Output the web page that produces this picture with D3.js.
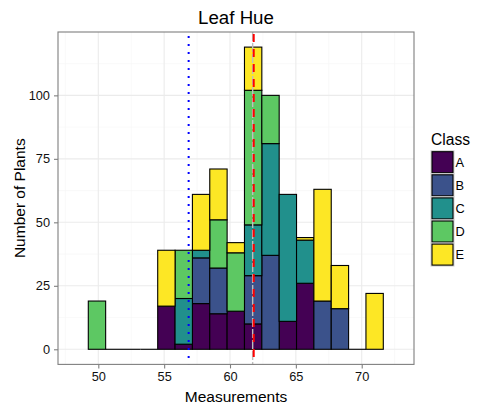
<!DOCTYPE html>
<html><head><meta charset="utf-8">
<script src="https://cdn.jsdelivr.net/npm/d3@7"></script>
<style>body{margin:0;background:#fff}svg{display:block}text{font-family:"Liberation Sans",Arial,sans-serif}</style>
</head><body><svg id="c" width="496" height="413"></svg>
<script>
// ---- data ----
const classes = ["A","B","C","D","E"];
const colors = ["#440154","#3B528B","#21908C","#5DC863","#FDE725"];
const binStart = 49.24;
const binWidth = 1.3176;
const countsA = [0,0,0,0,17,2,18,14,15,10,0,11,26,0,0,0,0];
const countsB = [0,0,0,0,0,0,18,18,0,19,37,0,0,19,16,0,0];
const countsC = [0,0,0,0,0,18,3,0,0,20,44,50,17,0,0,0,0];
const countsD = [19,0,0,0,0,19,0,19,23,53,19,0,0,0,0,0,0];
const countsE = [0,0,0,0,22,0,22,20,4,17,0,0,1,44,17,0,22];
const xTicks = [50,55,60,65,70];
const yTicks = [0,25,50,75,100];
const meanLine = 56.86;    // blue dotted
const medianLine = 61.8;   // red dashed
const greyLine = 61.72;    // grey dashed
const titleText = "Leaf Hue", xTitle = "Measurements", yTitle = "Number of Plants", legendTitle = "Class";

// ---- layout ----
const svg = d3.select("#c");
const P = {l:58, r:414, t:32, b:364.4};
const x = d3.scaleLinear().domain([46.94, 73.97]).range([P.l, P.r]);
const y = d3.scaleLinear().domain([-5.95, 124.95]).range([P.b, P.t]);

const nb = countsA.length;
const rows = d3.range(nb).map(i => ({i, A:countsA[i], B:countsB[i], C:countsC[i], D:countsD[i], E:countsE[i]}));
const stack = d3.stack().keys(classes)(rows);

// panel grid
const g = svg.append("g");
g.append("rect").attr("x",P.l).attr("y",P.t).attr("width",P.r-P.l).attr("height",P.b-P.t).attr("fill","#fff");
const xMinor = d3.range(47.5, 74, 5), yMinor = d3.range(12.5, 125, 25);
g.selectAll(".xm").data(xMinor).join("line").attr("x1",d=>x(d)).attr("x2",d=>x(d)).attr("y1",P.t).attr("y2",P.b).attr("stroke","#f5f5f5").attr("stroke-width",0.6);
g.selectAll(".ym").data(yMinor).join("line").attr("y1",d=>y(d)).attr("y2",d=>y(d)).attr("x1",P.l).attr("x2",P.r).attr("stroke","#f5f5f5").attr("stroke-width",0.6);
g.selectAll(".xM").data(xTicks).join("line").attr("x1",d=>x(d)).attr("x2",d=>x(d)).attr("y1",P.t).attr("y2",P.b).attr("stroke","#ebebeb").attr("stroke-width",1.1);
g.selectAll(".yM").data(yTicks).join("line").attr("y1",d=>y(d)).attr("y2",d=>y(d)).attr("x1",P.l).attr("x2",P.r).attr("stroke","#ebebeb").attr("stroke-width",1.1);

// zero-count bins as flat lines
const bars = svg.append("g");
rows.forEach(r => {
  const tot = classes.reduce((s,k)=>s+r[k],0);
  if (tot === 0) {
    bars.append("line").attr("x1",x(binStart+r.i*binWidth)).attr("x2",x(binStart+(r.i+1)*binWidth))
      .attr("y1",y(0)).attr("y2",y(0)).attr("stroke","#000").attr("stroke-width",1.1);
  }
});
stack.forEach((layer, k) => {
  bars.selectAll(null).data(layer.filter(d => d[1]-d[0] > 0)).join("rect")
    .attr("x", d => x(binStart + d.data.i*binWidth))
    .attr("width", d => x(binStart + (d.data.i+1)*binWidth) - x(binStart + d.data.i*binWidth))
    .attr("y", d => y(d[1]))
    .attr("height", d => y(d[0]) - y(d[1]))
    .attr("fill", colors[k]).attr("stroke","#000").attr("stroke-width",1.1);
});

// reference lines
svg.append("line").attr("x1",x(greyLine)).attr("x2",x(greyLine)).attr("y1",P.t).attr("y2",P.b)
  .attr("stroke","#bebebe").attr("stroke-width",1.4).attr("stroke-dasharray","9,2");
svg.append("line").attr("x1",x(meanLine)).attr("x2",x(meanLine)).attr("y1",P.t+4).attr("y2",P.b)
  .attr("stroke","#0000ff").attr("stroke-width",2).attr("stroke-dasharray","2,6");
svg.append("line").attr("x1",x(medianLine)).attr("x2",x(medianLine)).attr("y1",P.t+2).attr("y2",P.b)
  .attr("stroke","#ff0000").attr("stroke-width",2).attr("stroke-dasharray","8,7");

// panel border
svg.append("rect").attr("x",P.l).attr("y",P.t).attr("width",P.r-P.l).attr("height",P.b-P.t)
  .attr("fill","none").attr("stroke","#7f7f7f").attr("stroke-width",1.1);

// axes
const xa = svg.append("g").attr("transform",`translate(0,${P.b})`)
  .call(d3.axisBottom(x).tickValues(xTicks).tickSize(4).tickPadding(4).tickFormat(d3.format("d")));
const ya = svg.append("g").attr("transform",`translate(${P.l},0)`)
  .call(d3.axisLeft(y).tickValues(yTicks).tickSize(4).tickPadding(4).tickFormat(d3.format("d")));
[xa,ya].forEach(a => {
  a.select(".domain").remove();
  a.selectAll(".tick line").attr("stroke","#7f7f7f").attr("stroke-width",1.1);
  a.selectAll(".tick text").attr("fill","#111").attr("font-size",12.8).attr("font-family","Liberation Sans, Arial, sans-serif");
});

// titles
svg.append("text").attr("x",(P.l+P.r)/2).attr("y",24).attr("text-anchor","middle").attr("font-size",18.7).attr("fill","#000").text(titleText);
svg.append("text").attr("x",(P.l+P.r)/2).attr("y",402).attr("text-anchor","middle").attr("font-size",15.5).attr("fill","#000").text(xTitle);
svg.append("text").attr("transform",`translate(25,${(P.t+P.b)/2}) rotate(-90)`).attr("text-anchor","middle").attr("font-size",15.5).attr("fill","#000").text(yTitle);

// legend
const lg = svg.append("g");
lg.append("text").attr("x",431).attr("y",145).attr("font-size",15.6).attr("fill","#000").text(legendTitle);
classes.forEach((c,i) => {
  const ky = 150.7 + i*23.1;
  lg.append("rect").attr("x",431).attr("y",ky).attr("width",23).attr("height",23).attr("fill","#f2f2f2").attr("stroke","#d0d0d0").attr("stroke-width",1);
  lg.append("rect").attr("x",432).attr("y",ky+1).attr("width",21).attr("height",21).attr("fill",colors[i]).attr("stroke","#000").attr("stroke-width",1.1);
  lg.append("text").attr("x",455.5).attr("y",ky+11.5).attr("dy","0.36em").attr("font-size",12.8).attr("fill","#000").text(c);
});
</script></body></html>
